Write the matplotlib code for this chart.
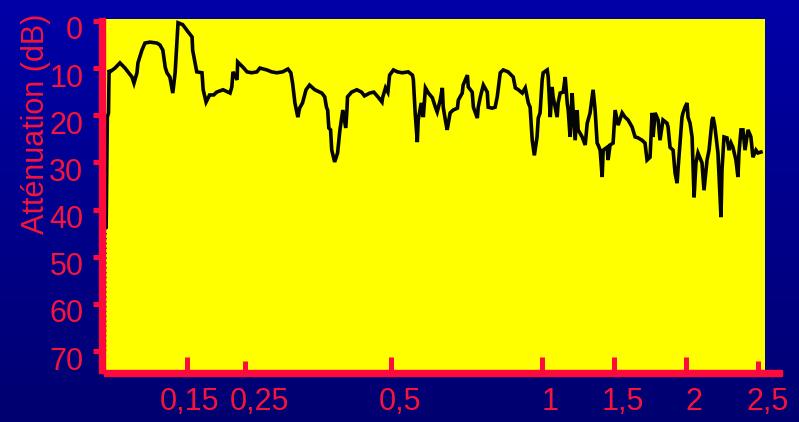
import numpy as np
import matplotlib
matplotlib.use("Agg")
import matplotlib.pyplot as plt
from matplotlib.patches import Rectangle
from matplotlib.colors import LinearSegmentedColormap
from matplotlib.transforms import ScaledTranslation

# Attenuation measurements (frequency in kHz, attenuation in dB)
freq_low = [0.011, 0.012, 0.014, 0.016, 0.017, 0.0185, 0.0271, 0.0356, 0.0442, 0.0493,
            0.0562, 0.0596, 0.0647, 0.0664, 0.0732, 0.0784, 0.0869, 0.0989, 0.104, 0.109,
            0.113, 0.116, 0.121, 0.126, 0.130, 0.133, 0.135, 0.143, 0.152, 0.159,
            0.160, 0.167, 0.176, 0.178, 0.183, 0.189, 0.196, 0.201, 0.212, 0.224,
            0.227, 0.229, 0.236, 0.237, 0.246, 0.253, 0.261, 0.270, 0.275, 0.287,
            0.295, 0.304, 0.314, 0.323, 0.328, 0.330, 0.331, 0.335, 0.340, 0.343,
            0.348, 0.354, 0.360, 0.369, 0.381, 0.386, 0.389, 0.391, 0.393, 0.396,
            0.398, 0.403, 0.408, 0.412, 0.417, 0.422, 0.424, 0.425, 0.432, 0.441,
            0.449, 0.454, 0.463, 0.470, 0.477, 0.484, 0.485, 0.490, 0.494, 0.497]
atten_low = [70.0, 43.7, 20.4, 19.5, 10.4, 10.8, 10.0, 8.9, 10.0, 10.8,
             11.9, 13.2, 11.0, 8.9, 6.2, 4.7, 4.5, 4.7, 5.1, 6.2,
             9.8, 11.0, 11.9, 15.3, 11.0, 4.5, 0.4, 0.8, 2.3, 3.4,
             6.2, 10.8, 11.0, 14.6, 17.2, 15.7, 15.7, 15.1, 14.6, 15.3,
             14.0, 10.8, 12.5, 8.7, 9.8, 10.8, 11.0, 10.8, 10.0, 10.4,
             10.8, 11.0, 10.8, 10.2, 11.0, 12.5, 13.2, 17.4, 20.4, 18.5,
             17.4, 14.6, 13.6, 14.6, 15.3, 16.1, 18.3, 18.9, 22.7, 23.1,
             27.4, 29.9, 28.0, 23.1, 18.9, 22.7, 18.9, 16.1, 15.1, 14.6,
             15.1, 15.9, 15.3, 15.1, 16.1, 17.2, 16.3, 14.2, 15.1, 11.5]

freq_mid = [0.507, 0.520, 0.536, 0.556, 0.570, 0.573, 0.579, 0.586, 0.589, 0.599,
            0.606, 0.613, 0.623, 0.636, 0.646, 0.652, 0.662, 0.669, 0.672, 0.679,
            0.685, 0.695, 0.705, 0.719, 0.722, 0.735, 0.738, 0.752, 0.755, 0.768,
            0.772, 0.785, 0.788, 0.795, 0.805, 0.818, 0.821, 0.834, 0.844, 0.851,
            0.854, 0.861, 0.871, 0.887, 0.904, 0.911, 0.921, 0.934, 0.944, 0.954,
            0.960, 0.967, 0.974, 0.983, 0.987, 0.993, 1.000]
atten_mid = [10.4, 10.8, 11.0, 10.8, 11.5, 12.5, 19.5, 25.7, 21.0, 17.4,
             20.4, 14.2, 15.3, 16.3, 18.3, 19.3, 16.8, 14.2, 18.3, 21.0,
             23.1, 19.5, 18.9, 18.5, 16.8, 15.3, 13.6, 11.5, 14.0, 15.1,
             18.3, 20.6, 18.3, 16.1, 13.6, 15.1, 18.3, 18.5, 18.3, 16.1,
             14.6, 11.0, 10.4, 10.8, 11.9, 14.2, 14.6, 15.3, 14.2, 17.4,
             18.3, 25.3, 28.5, 24.6, 20.6, 19.5, 12.5]

freq_high = [1.007, 1.035, 1.042, 1.056, 1.069, 1.076, 1.090, 1.104, 1.111, 1.125,
             1.146, 1.160, 1.174, 1.181, 1.194, 1.208, 1.215, 1.229, 1.243, 1.250,
             1.278, 1.299, 1.313, 1.333, 1.354, 1.368, 1.382, 1.389, 1.403, 1.417,
             1.424, 1.451, 1.458, 1.472, 1.493, 1.507, 1.528, 1.556, 1.576, 1.597,
             1.625, 1.646, 1.667, 1.694, 1.715, 1.729, 1.750, 1.764, 1.771, 1.785,
             1.806, 1.819, 1.840, 1.868, 1.875, 1.889, 1.910, 1.924, 1.938, 1.944,
             1.958, 1.972, 1.979, 1.993, 2.007, 2.014, 2.028, 2.042, 2.056, 2.069,
             2.083, 2.111, 2.125, 2.146, 2.160, 2.181, 2.188, 2.201, 2.222, 2.236,
             2.243, 2.250, 2.264, 2.285, 2.299, 2.313, 2.326, 2.347, 2.361, 2.368,
             2.382, 2.396, 2.410, 2.431, 2.451, 2.465, 2.486, 2.500, 2.521]
atten_high = [11.0, 10.4, 11.9, 20.4, 14.0, 16.1, 18.3, 20.4, 17.4, 15.3,
              15.1, 11.9, 17.4, 18.9, 24.6, 15.3, 18.9, 25.3, 18.9, 23.1,
              24.6, 26.3, 21.7, 19.5, 14.6, 18.9, 25.9, 26.3, 27.4, 33.1,
              27.4, 26.8, 29.5, 26.3, 25.9, 18.9, 22.1, 19.5, 20.4, 21.0,
              22.5, 24.6, 24.8, 25.3, 25.9, 29.5, 28.9, 19.5, 24.6, 19.5,
              21.0, 25.3, 21.0, 21.7, 22.5, 26.8, 27.4, 32.3, 34.4, 31.6,
              25.9, 20.4, 19.5, 18.3, 17.4, 20.4, 21.7, 24.6, 37.4, 30.1,
              28.0, 30.1, 35.9, 29.5, 27.4, 21.0, 20.4, 22.5, 28.0, 37.4,
              41.6, 31.6, 24.6, 24.8, 27.4, 25.9, 26.8, 29.5, 33.1, 28.0,
              23.1, 23.1, 27.4, 23.1, 24.6, 28.9, 27.4, 28.0, 27.8]

x_ticks = [0.15, 0.25, 0.5, 1.0, 1.5, 2.0, 2.5]
x_tick_labels = ["0,15", "0,25", "0,5", "1", "1,5", "2", "2,5"]
y_ticks = [0, 10, 20, 30, 40, 50, 60, 70]
y_tick_labels = ["0", "10", "20", "30", "40", "50", "60", "70"]
y_label = "Atténuation (dB)"

# Piecewise-linear frequency axis: compressed stretch above 0.5 kHz and above 1 kHz
SCALE_FREQ = [0.0, 0.5, 1.0, 3.0]
SCALE_POS = [0.0, 292.5, 443.5, 731.5]


def freq_forward(f):
    return np.interp(f, SCALE_FREQ, SCALE_POS)


def freq_inverse(p):
    return np.interp(p, SCALE_POS, SCALE_FREQ)


RED = "#FF0A3C"
TEXT_RED = "#F5143C"
YELLOW = "#FFFF00"

plt.rcParams["font.family"] = ["Liberation Sans", "DejaVu Sans"]

W, H = 799, 422
fig = plt.figure(figsize=(W / 100, H / 100), dpi=100)


def fx(px):
    return px / W


def fy(py):
    return 1 - py / H


# Dark blue vertical gradient backdrop
bg = fig.add_axes([0, 0, 1, 1], zorder=-10)
bg_cmap = LinearSegmentedColormap.from_list("backdrop", ["#0000A8", "#000070"])
bg.imshow(np.linspace(0, 1, 256)[:, None], aspect="auto", cmap=bg_cmap,
          extent=[0, 1, 0, 1], origin="upper")
bg.set_axis_off()

ax = fig.add_axes([fx(105), fy(370), fx(765) - fx(105), fy(19) - fy(370)])
ax.set_facecolor(YELLOW)
for spine in ax.spines.values():
    spine.set_visible(False)

ax.set_xscale("function", functions=(freq_forward, freq_inverse))
ax.set_xlim(0.01, 2.549)
ax.set_ylim(74.0, -0.4)

freq = np.concatenate([freq_low, freq_mid, freq_high])
atten = np.concatenate([atten_low, atten_mid, atten_high])
# faint dotted lead-in from the lowest reading, then the measured trace
ax.plot(freq[:2], atten[:2], color="#050505", lw=1.0, ls=(0, (1, 2.5)))
ax.plot(freq[1:], atten[1:], color="#050505", lw=2.6, solid_joinstyle="miter")

ax.set_xticks(x_ticks, x_tick_labels)
ax.set_yticks(y_ticks, y_tick_labels)
ax.xaxis.set_minor_locator(matplotlib.ticker.NullLocator())
ax.tick_params(axis="x", direction="in", length=9.4, width=3.6, color=RED,
               pad=12, labelsize=22, labelcolor=TEXT_RED)
ax.tick_params(axis="y", direction="out", length=8.6, width=3.6, color=RED,
               pad=7, labelsize=22, labelcolor=TEXT_RED)
ticks = ax.xaxis.get_major_ticks()
for idx in (1, 6):
    ticks[idx].tick1line.set_markersize(6.5)

# Red axis bars
fig.add_artist(Rectangle((fx(99), fy(373)), fx(105) - fx(99), fy(18) - fy(373),
                         transform=fig.transFigure, color=RED, zorder=5))
fig.add_artist(Rectangle((fx(104), fy(376)), fx(782) - fx(104), fy(370) - fy(376),
                         transform=fig.transFigure, color=RED, zorder=5))

fig.text(fx(36), fy(124), y_label, rotation=90, ha="center", va="center",
         fontsize=22, color=TEXT_RED)

# Label nudges
x_shift_px = [3, 14, 9, 8, 9, 8, 10]
for lab, dx in zip(ax.get_xticklabels(), x_shift_px):
    lab.set_transform(lab.get_transform() + ScaledTranslation(dx / 100, 0, fig.dpi_scale_trans))
for lab in ax.get_yticklabels():
    lab.set_transform(lab.get_transform() + ScaledTranslation(0, -0.07, fig.dpi_scale_trans))

fig.savefig("out.png", dpi=100)
